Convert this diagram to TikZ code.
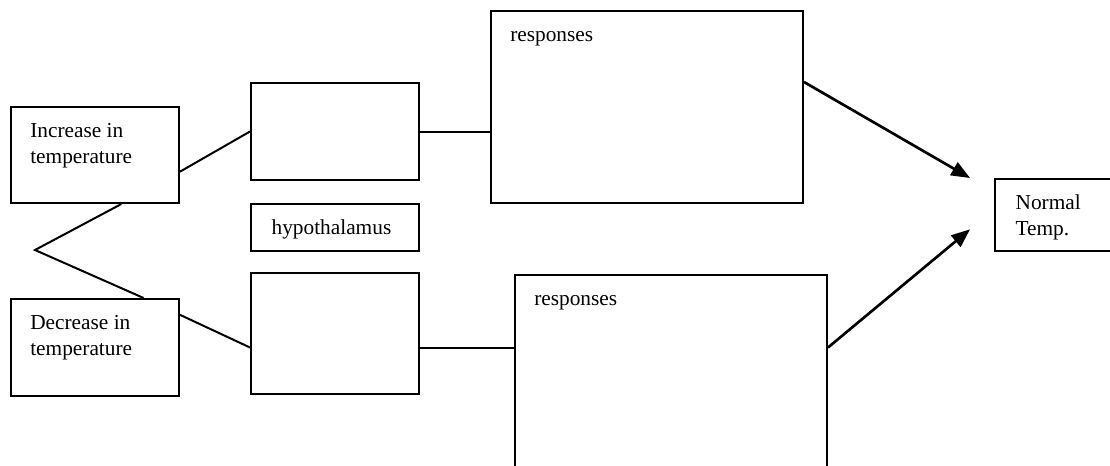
\documentclass[tikz,border=0pt]{standalone}
\usepackage{fontspec}
\setmainfont{Liberation Serif}
\usetikzlibrary{arrows.meta,positioning,calc}

\begin{document}
\begin{tikzpicture}[x=0.75pt, y=-0.75pt, font=\fontsize{16}{19.5}\selectfont,
    box/.style={draw, line width=1.5pt, anchor=north west, inner sep=0pt, minimum width=126pt},
    lbl/.style={align=left, inner sep=0pt},
    link/.style={line width=1.5pt},
    push/.style={line width=2pt, -{Triangle[length=14pt,width=11pt]}}]
  \useasboundingbox (0,0) rectangle (1110,465);
  \clip (0,0) rectangle (1110,465);
  % stimulus boxes
  \node[box, minimum height=72pt] (inc) at (10,106) {};
  \node[box, minimum height=72.75pt] (dec) at (10,298) {};
  % hypothalamus column
  \node[box, minimum height=72.75pt] (hyp1) at (250,82) {};
  \node[box, minimum height=35pt, below=16.5pt of hyp1] (hypo) {};
  \node[box, minimum height=91pt, below=15pt of hypo] (hyp2) {};
  % responses and result
  \node[box, minimum width=234pt, minimum height=144pt] (resp1) at (490,10) {};
  \node[box, minimum width=234pt, minimum height=160pt] (resp2) at (514,274) {};
  \node[box, minimum height=54pt] (norm) at (994,178) {};
  % texts
  \node[lbl, below right=9.5pt and 15pt of inc.north west] (inctxt) {\strut Increase in\\temperature};
  \node[lbl, below right=9.5pt and 15pt of dec.north west] (dectxt) {\strut Decrease in\\temperature};
  \node[lbl, below right=9.5pt and 16pt of hypo.north west] (hypotxt) {\strut hypothalamus};
  \node[lbl, below right=9.5pt and 15pt of resp1.north west] (resp1txt) {\strut responses};
  \node[lbl, below right=9.5pt and 15pt of resp2.north west] (resp2txt) {\strut responses};
  \node[lbl, below right=9.5pt and 16pt of norm.north west] (normtxt) {\strut Normal\\Temp.};
  % connectors
  \coordinate (apex) at (35,250);
  \draw[link] ($(inc.south east)!0.33!(inc.north east)$) -- (hyp1.west);
  \draw[link] (hyp1.east) -- (resp1.west |- hyp1.east);
  \draw[link] ($(inc.south west)!0.655!(inc.south east)$) -- (apex) -- ($(dec.north west)!0.786!(dec.north east)$);
  \draw[link] ($(dec.north east)!0.17!(dec.south east)$) -- (hyp2.west |- dec.center);
  \draw[link] (hyp2.east |- dec.center) -- (resp2.west |- dec.center);
  \coordinate (tipA) at ($(norm.north west)+(-18pt,0)$);
  \coordinate (tipB) at ($(norm.south west)+(-18pt,17pt)$);
  \draw[push] (resp1.east |- hyp1.north) -- (tipA);
  \draw[push] (resp2.east |- dec.center) -- (tipB);
\end{tikzpicture}
\end{document}
